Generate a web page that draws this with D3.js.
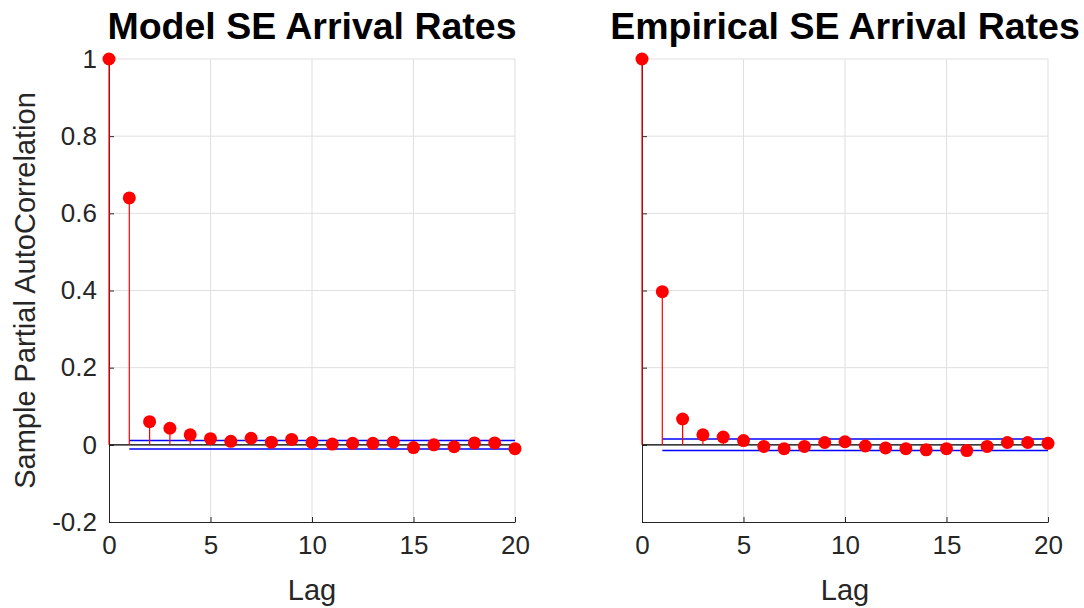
<!DOCTYPE html>
<html>
<head>
<meta charset="utf-8">
<script src="https://cdn.jsdelivr.net/npm/d3@7"></script>
<style>
  body { margin: 0; background: #fff; }
  svg { display: block; font-family: "Liberation Sans", Arial, sans-serif; }
</style>
</head>
<body>
<svg width="1084" height="608"></svg>
<script>
const lags = d3.range(0, 21);
const modelPacf = [1, 0.64, 0.060, 0.043, 0.026, 0.016, 0.009, 0.017, 0.007, 0.014, 0.006,
                   0.002, 0.004, 0.004, 0.007, -0.007, 0.0, -0.005, 0.005, 0.005, -0.010];
const empiricalPacf = [1, 0.397, 0.067, 0.026, 0.020, 0.011, -0.004, -0.010, -0.004, 0.006, 0.008,
                       -0.003, -0.008, -0.010, -0.013, -0.010, -0.015, -0.004, 0.006, 0.006, 0.004];
const modelBound = 0.011;
const empiricalBound = 0.015;
const xTicks = [0, 5, 10, 15, 20];
const yTicks = [-0.2, 0, 0.2, 0.4, 0.6, 0.8, 1];
const yTickLabels = ["-0.2", "0", "0.2", "0.4", "0.6", "0.8", "1"];

const panels = [
  {title: "Model SE Arrival Rates", left: 109, values: modelPacf, bound: modelBound, yLabels: true},
  {title: "Empirical SE Arrival Rates", left: 642, values: empiricalPacf, bound: empiricalBound, yLabels: false}
];

const plotTop = 59, plotBottom = 522, plotWidth = 406;
const axisColor = "#262626";
const svg = d3.select("svg");

panels.forEach(p => {
  const x = d3.scaleLinear().domain([0, 20]).range([0, plotWidth]);
  const y = d3.scaleLinear().domain([-0.2, 1]).range([plotBottom - plotTop, 0]);
  const h = plotBottom - plotTop;

  const g = svg.append("g").attr("transform", `translate(${p.left}, ${plotTop})`);

  // grid
  g.append("g").selectAll("line").data(xTicks.slice(1)).enter().append("line")
    .attr("x1", d => x(d)).attr("x2", d => x(d))
    .attr("y1", 0).attr("y2", h)
    .attr("stroke", "#dfdfdf").attr("stroke-width", 1);
  g.append("g").selectAll("line").data(yTicks.slice(1)).enter().append("line")
    .attr("x1", 0).attr("x2", plotWidth)
    .attr("y1", d => y(d)).attr("y2", d => y(d))
    .attr("stroke", "#dfdfdf").attr("stroke-width", 1);

  // axes
  const xAxis = d3.axisBottom(x).tickValues(xTicks).tickSizeInner(-5).tickSizeOuter(0).tickPadding(14);
  const gx = g.append("g").attr("transform", `translate(0, ${h})`).call(xAxis);
  gx.selectAll("text").attr("font-size", "26px").attr("fill", axisColor);

  const yAxis = d3.axisLeft(y).tickValues(yTicks).tickSizeInner(-5).tickSizeOuter(0).tickPadding(12)
    .tickFormat((d, i) => p.yLabels ? yTickLabels[i] : "");
  const gy = g.append("g").call(yAxis);
  gy.selectAll("text").attr("font-size", "26px").attr("fill", axisColor);

  [gx, gy].forEach(a => {
    a.select(".domain").attr("stroke", axisColor);
    a.selectAll(".tick line").attr("stroke", axisColor);
    a.attr("font-family", null);
  });

  // baseline at zero
  g.append("line")
    .attr("x1", x(0)).attr("x2", x(20))
    .attr("y1", y(0)).attr("y2", y(0))
    .attr("stroke", "#000").attr("stroke-width", 1.2);

  // confidence bounds
  [p.bound, -p.bound].forEach(b => {
    g.append("line")
      .attr("x1", x(1)).attr("x2", x(20))
      .attr("y1", y(b)).attr("y2", y(b))
      .attr("stroke", "#0000ff").attr("stroke-width", 1.5);
  });

  // stems
  g.append("g").selectAll("line").data(lags).enter().append("line")
    .attr("x1", d => x(d)).attr("x2", d => x(d))
    .attr("y1", y(0)).attr("y2", d => y(p.values[d]))
    .attr("stroke", "#ff0000").attr("stroke-width", 1.2);

  g.append("g").selectAll("circle").data(lags).enter().append("circle")
    .attr("cx", d => x(d)).attr("cy", d => y(p.values[d]))
    .attr("r", 6.5)
    .attr("fill", "#ff0000");

  // title
  svg.append("text")
    .attr("x", p.left + plotWidth / 2).attr("y", 39)
    .attr("text-anchor", "middle")
    .attr("font-size", "37.5px").attr("font-weight", "bold")
    .attr("fill", "#000")
    .text(p.title);

  // x label
  svg.append("text")
    .attr("x", p.left + plotWidth / 2).attr("y", 600)
    .attr("text-anchor", "middle")
    .attr("font-size", "29px").attr("fill", axisColor)
    .text("Lag");
});

// y label
svg.append("text")
  .attr("transform", `translate(35, ${(plotTop + plotBottom) / 2}) rotate(-90)`)
  .attr("text-anchor", "middle")
  .attr("font-size", "29px").attr("fill", axisColor)
  .text("Sample Partial AutoCorrelation");
</script>
</body>
</html>
